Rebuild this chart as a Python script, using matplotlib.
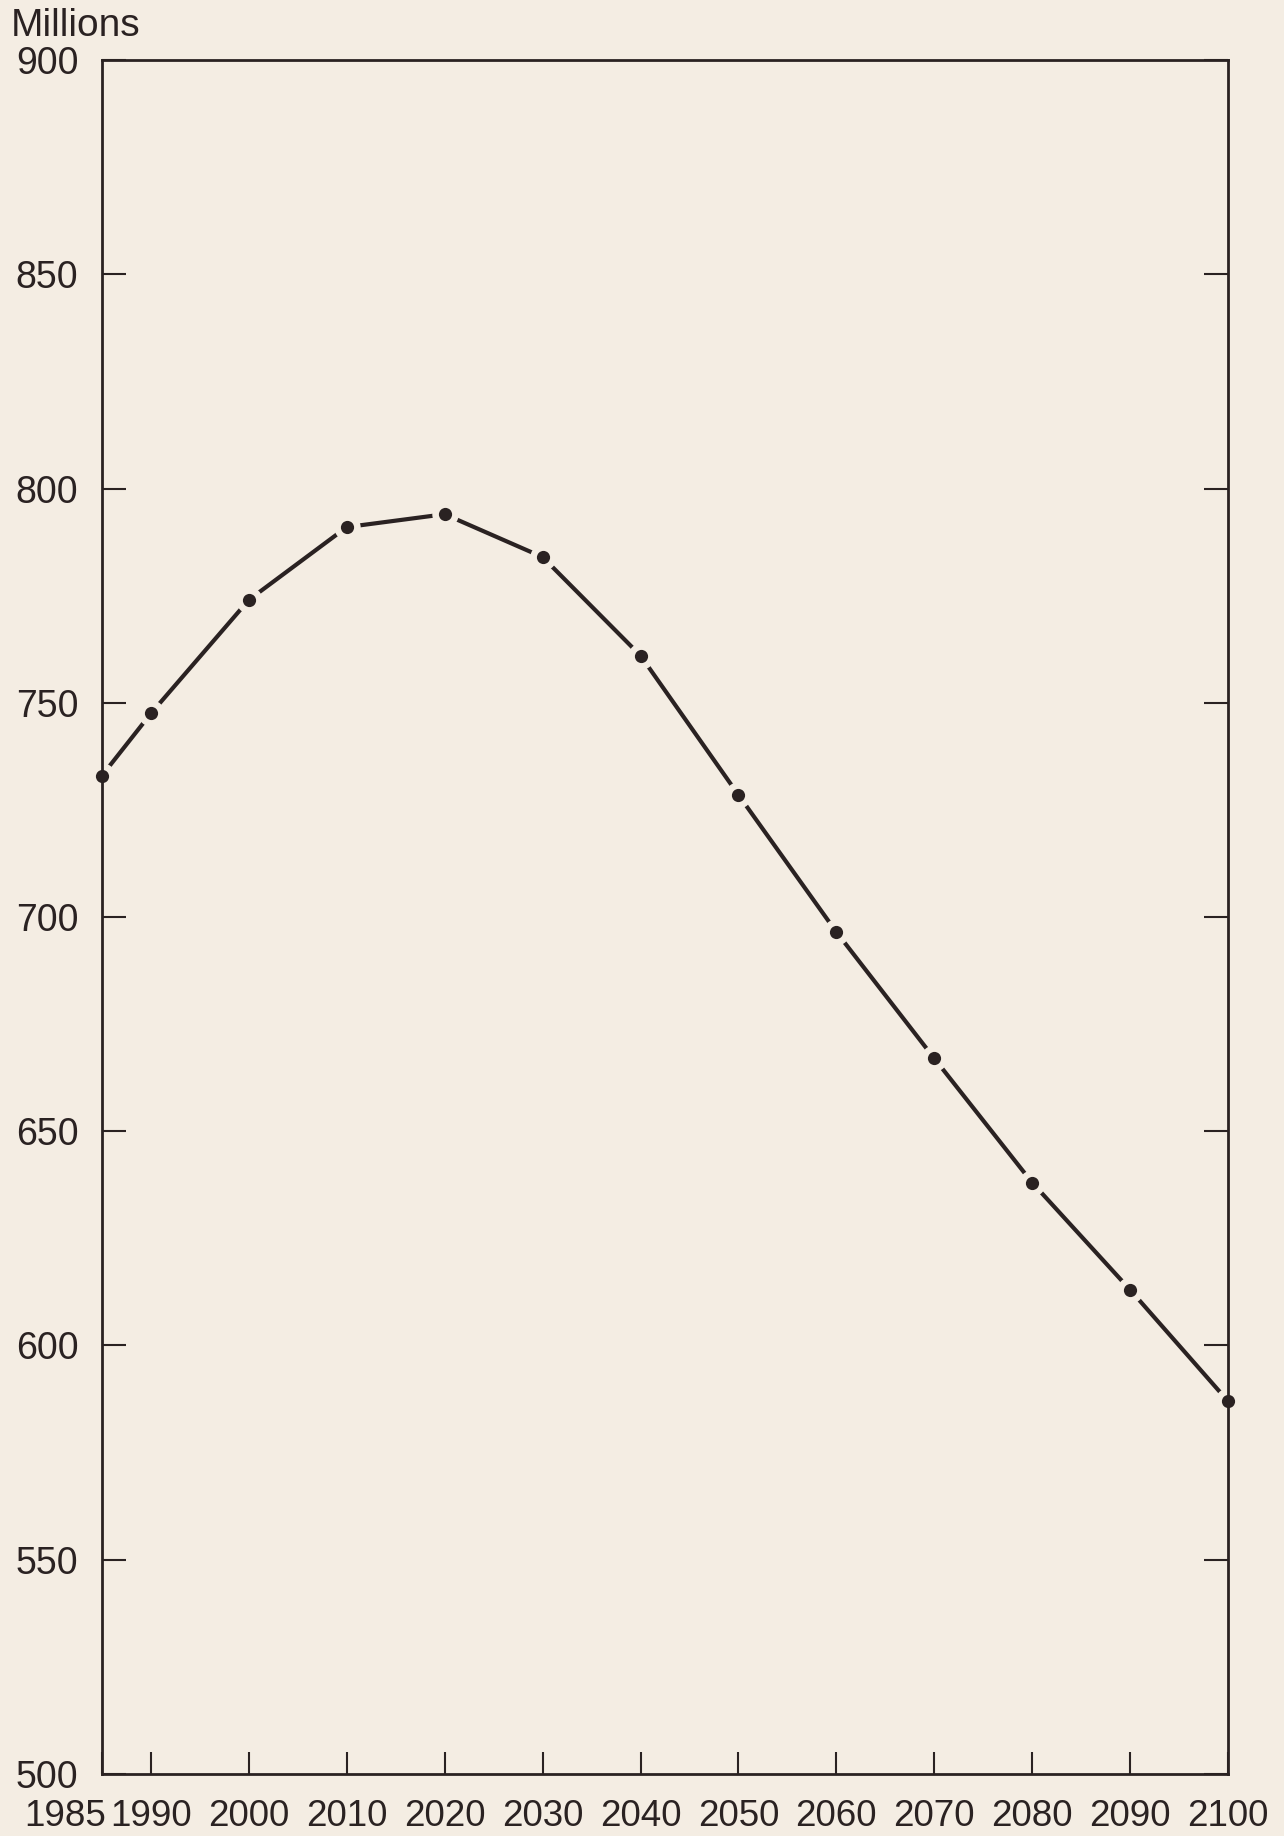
import matplotlib
matplotlib.use("Agg")
import matplotlib.pyplot as plt
import matplotlib.transforms as mtransforms

# Population projection, millions
years = [1985, 1990, 2000, 2010, 2020, 2030, 2040, 2050, 2060, 2070, 2080, 2090, 2100]
population = [733, 747.5, 774, 791, 794, 784, 761, 728.5, 696.5, 667, 638, 613, 587]

y_ticks = [500, 550, 600, 650, 700, 750, 800, 850, 900]
x_labels = [str(y) for y in years]

bg = '#f4ede3'
ink = '#2a2222'

plt.rcParams['font.family'] = ['Liberation Sans', 'DejaVu Sans']

fig = plt.figure(figsize=(12.84, 18.36), dpi=100, facecolor=bg)
ax = fig.add_axes([0.0794, 0.0338, 0.877, 0.9335], facecolor=bg)

# line, then a background-coloured halo and the dots on top
ax.plot(years, population, color=ink, lw=3.0, zorder=2, solid_capstyle='butt')
ax.plot(years, population, ls='none', marker='o', ms=19, mfc=bg, mec='none',
        zorder=2.2, clip_on=False)
ax.plot(years, population, ls='none', marker='o', ms=9.5, mfc=ink, mec='none',
        zorder=3, clip_on=False)

ax.set_xlim(1985, 2100)
ax.set_ylim(500, 900)

ax.set_yticks(y_ticks)
ax.set_yticklabels([str(v) for v in y_ticks])
ax.set_xticks(years)
ax.set_xticklabels(x_labels)

for s in ax.spines.values():
    s.set_linewidth(2.0)
    s.set_color(ink)

ax.tick_params(axis='y', which='both', direction='in', length=17, width=1.5,
               color=ink, left=True, right=True, labelsize=27, pad=17,
               labelcolor=ink)
ax.tick_params(axis='x', which='both', direction='in', length=16, width=1.5,
               color=ink, bottom=True, top=False, labelsize=26.5, pad=18,
               labelcolor=ink)

# first year label sits to the left of the axis corner
lbl = ax.get_xticklabels()[0]
lbl.set_transform(lbl.get_transform() +
                  mtransforms.ScaledTranslation(-0.37, 0, fig.dpi_scale_trans))

fig.text(11 / 1284, 1 - 26 / 1836, 'Millions', ha='left', va='center',
         fontsize=28, color=ink)

fig.savefig('out.png', dpi=100, facecolor=bg)
